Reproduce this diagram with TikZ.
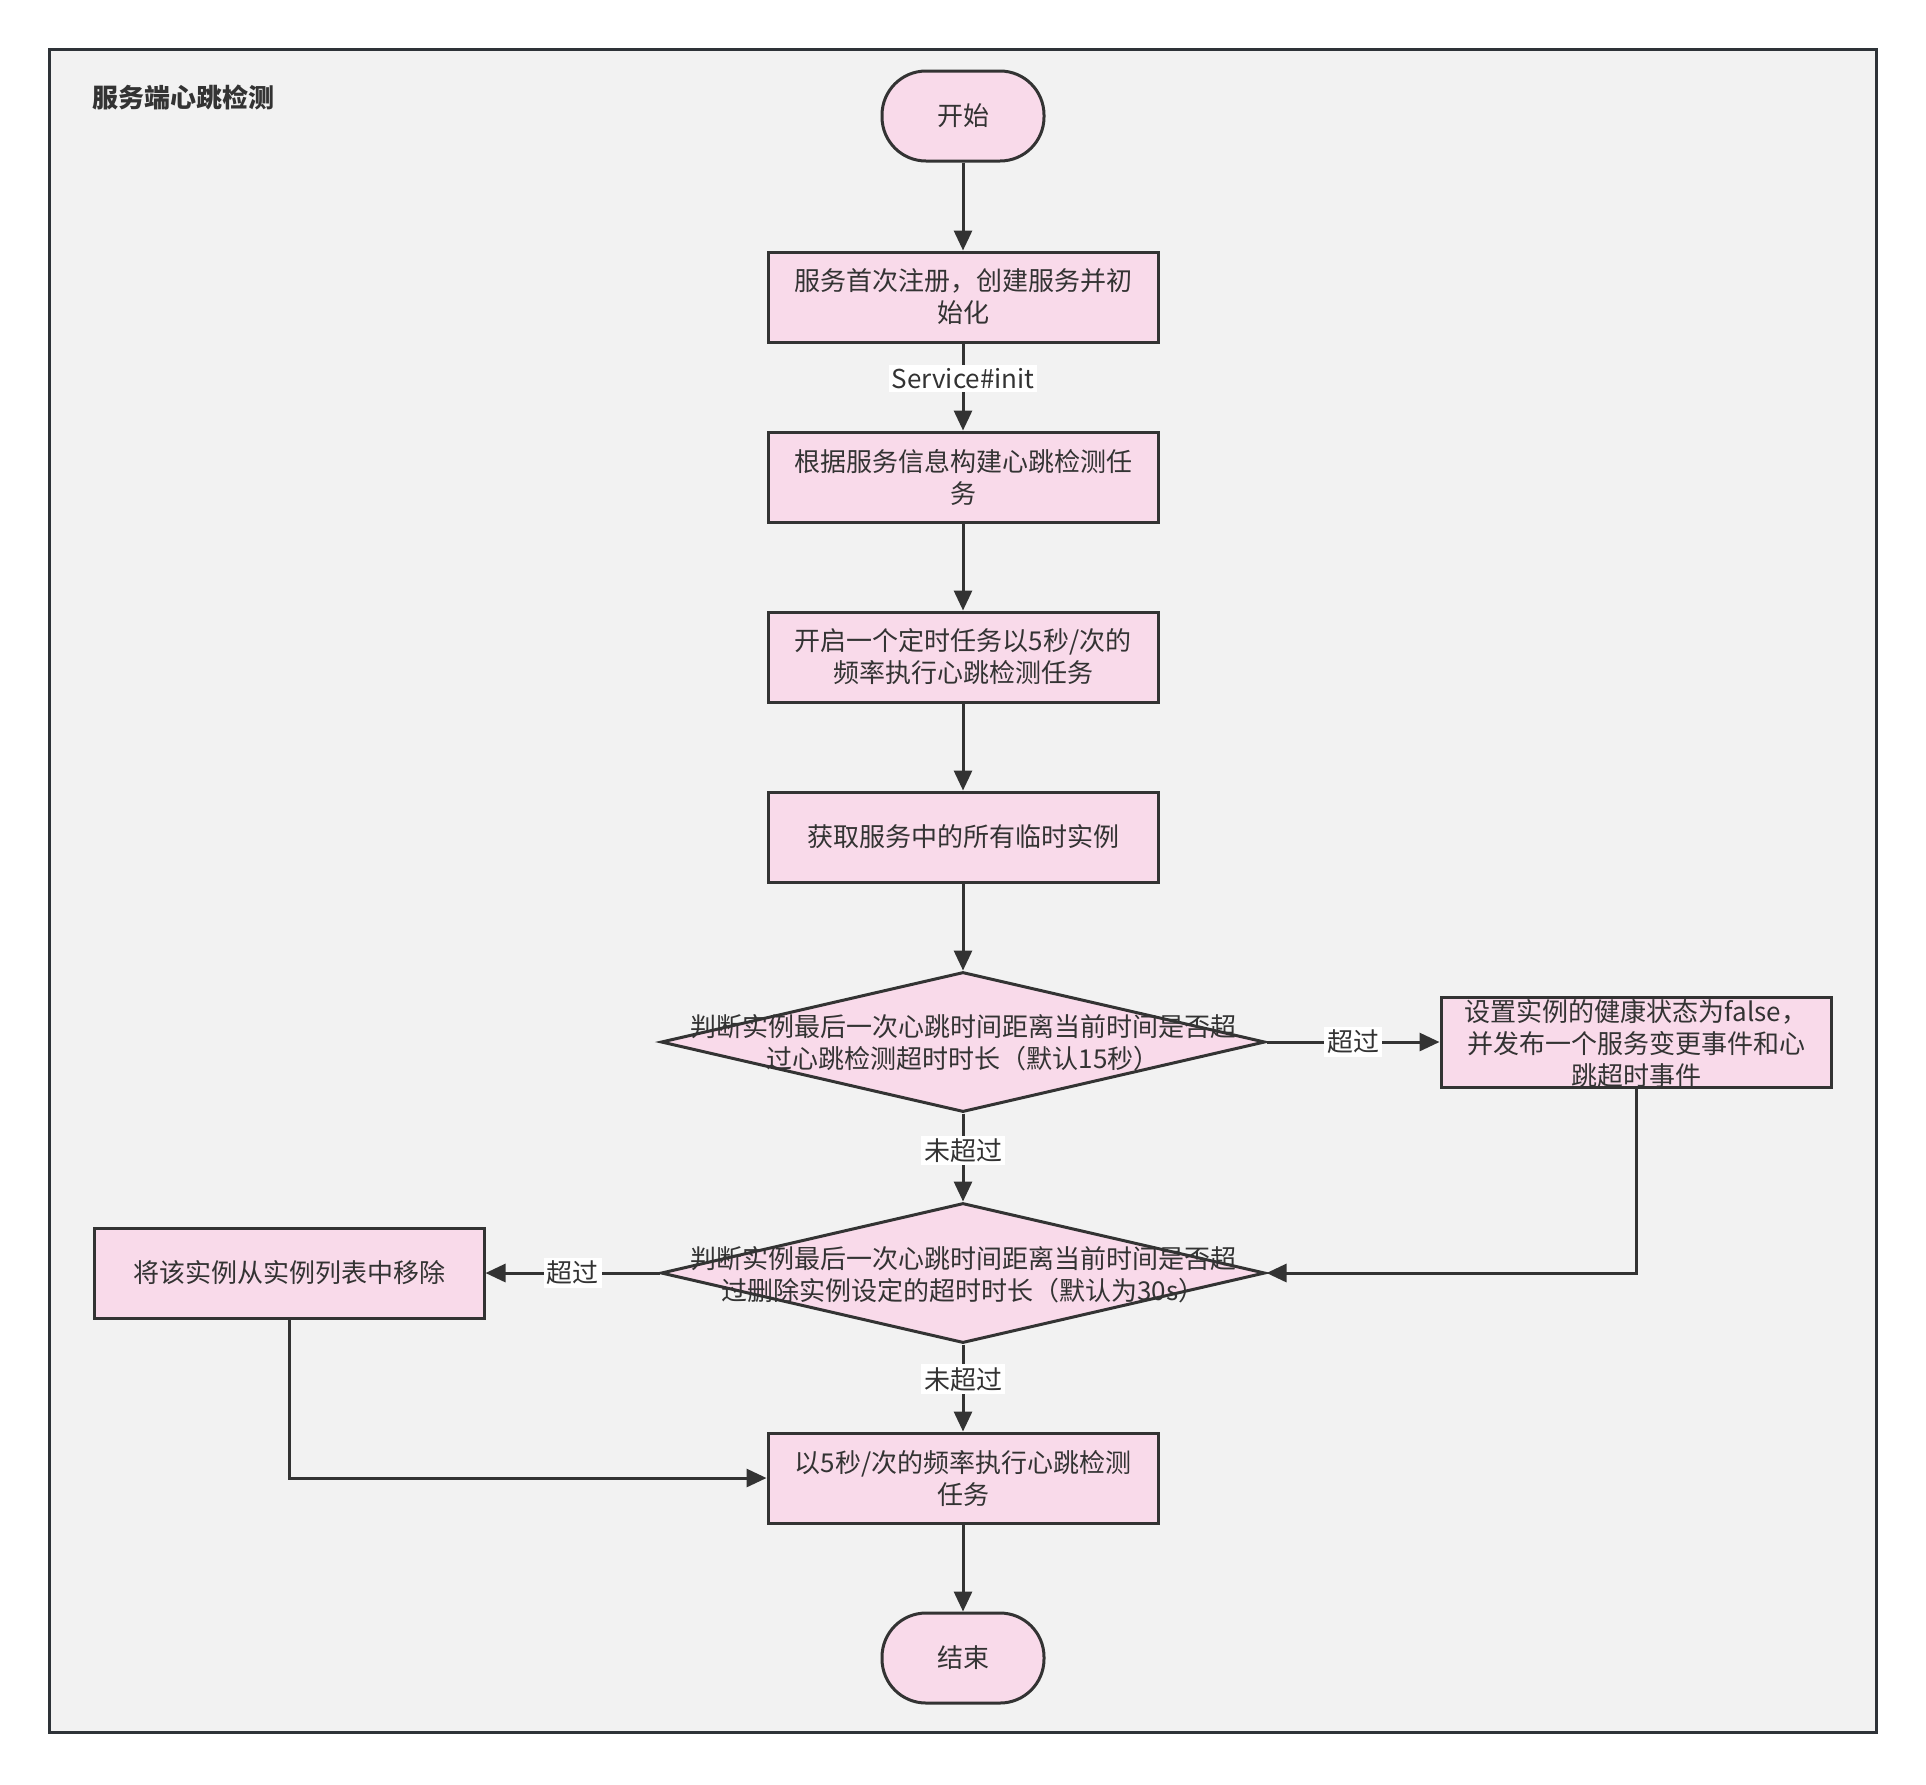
\documentclass[tikz,border=0pt]{standalone}
\usepackage{fontspec}
\setmainfont{Noto Sans CJK SC}
\usetikzlibrary{shapes.geometric,arrows.meta}
\definecolor{framefill}{HTML}{F2F2F2}
\definecolor{framedraw}{HTML}{2E3338}
\definecolor{nodefill}{HTML}{F9DAEA}
\definecolor{nodedraw}{HTML}{333333}
\definecolor{txt}{HTML}{333333}
\tikzset{
  proc/.style={draw=nodedraw, fill=nodefill, line width=1.5pt, minimum width=195pt, minimum height=45pt, inner sep=0pt, align=center, text=txt, font=\fontsize{13pt}{16pt}\selectfont},
  term/.style={proc, rounded corners=22pt, minimum width=81pt},
  dia/.style={diamond, draw=nodedraw, fill=nodefill, line width=1.5pt, minimum width=302pt, minimum height=70pt, inner sep=0pt},
  diatext/.style={align=center, text=txt, inner sep=0pt, font=\fontsize{13pt}{16pt}\selectfont},
  lbl/.style={fill=white, inner sep=1.5pt, text=txt, font=\fontsize{13pt}{16pt}\selectfont},
  arr/.style={-{Triangle[length=10pt,width=9pt]}, line width=1.5pt, draw=nodedraw},
}
\begin{document}
\begin{tikzpicture}[x=0.5pt,y=-0.5pt]
\useasboundingbox (0,0) rectangle (1926,1784);
\fill[white] (0,0) rectangle (1926,1784);
\draw[fill=framefill, draw=framedraw, line width=1.5pt] (49,49) rectangle (1876,1732);
\node[anchor=west, text=txt, inner sep=0pt, font=\fontsize{13pt}{16pt}\selectfont\bfseries] (title) at (92,97) {服务端心跳检测};

\node[term] (start) at (963,116) {开始};
\node[proc] (b1) at (963,297) {服务首次注册，创建服务并初\\始化};
\node[proc] (b2) at (963,477) {根据服务信息构建心跳检测任\\务};
\node[proc] (b3) at (963,657) {开启一个定时任务以5秒/次的\\频率执行心跳检测任务};
\node[proc] (b4) at (963,837) {获取服务中的所有临时实例};
\node[dia] (d1) at (963,1042) {};
\node[diatext] (d1t) at (963,1043) {判断实例最后一次心跳时间距离当前时间是否超\\过心跳检测超时时长（默认15秒）};
\node[proc] (rb) at (1636,1042) {};
\node[diatext] (rbt) at (1636,1044) {设置实例的健康状态为false，\\并发布一个服务变更事件和心\\跳超时事件};
\node[dia] (d2) at (963,1273) {};
\node[diatext] (d2t) at (963,1275) {判断实例最后一次心跳时间距离当前时间是否超\\过删除实例设定的超时时长（默认为30s）};
\node[proc] (lb) at (289,1273) {将该实例从实例列表中移除};
\node[proc] (b5) at (963,1478) {以5秒/次的频率执行心跳检测\\任务};
\node[term] (end) at (963,1658) {结束};

\draw[arr] (start) -- (b1);
\draw[arr] (b1) -- node[lbl, pos=0.4] {Service\#init} (b2);
\draw[arr] (b2) -- (b3);
\draw[arr] (b3) -- (b4);
\draw[arr] (b4) -- (d1.north);
\draw[arr] (d1.east) -- node[lbl] {超过} (rb.west);
\draw[arr] (d1.south) -- node[lbl, pos=0.42] {未超过} (d2.north);
\draw[arr] (rb.south) |- (d2.east);
\draw[arr] (d2.west) -- node[lbl] {超过} (lb.east);
\draw[arr] (d2.south) -- node[lbl, pos=0.4] {未超过} (b5.north);
\draw[arr] (lb.south) |- (b5.west);
\draw[arr] (b5) -- (end);
\end{tikzpicture}
\end{document}
